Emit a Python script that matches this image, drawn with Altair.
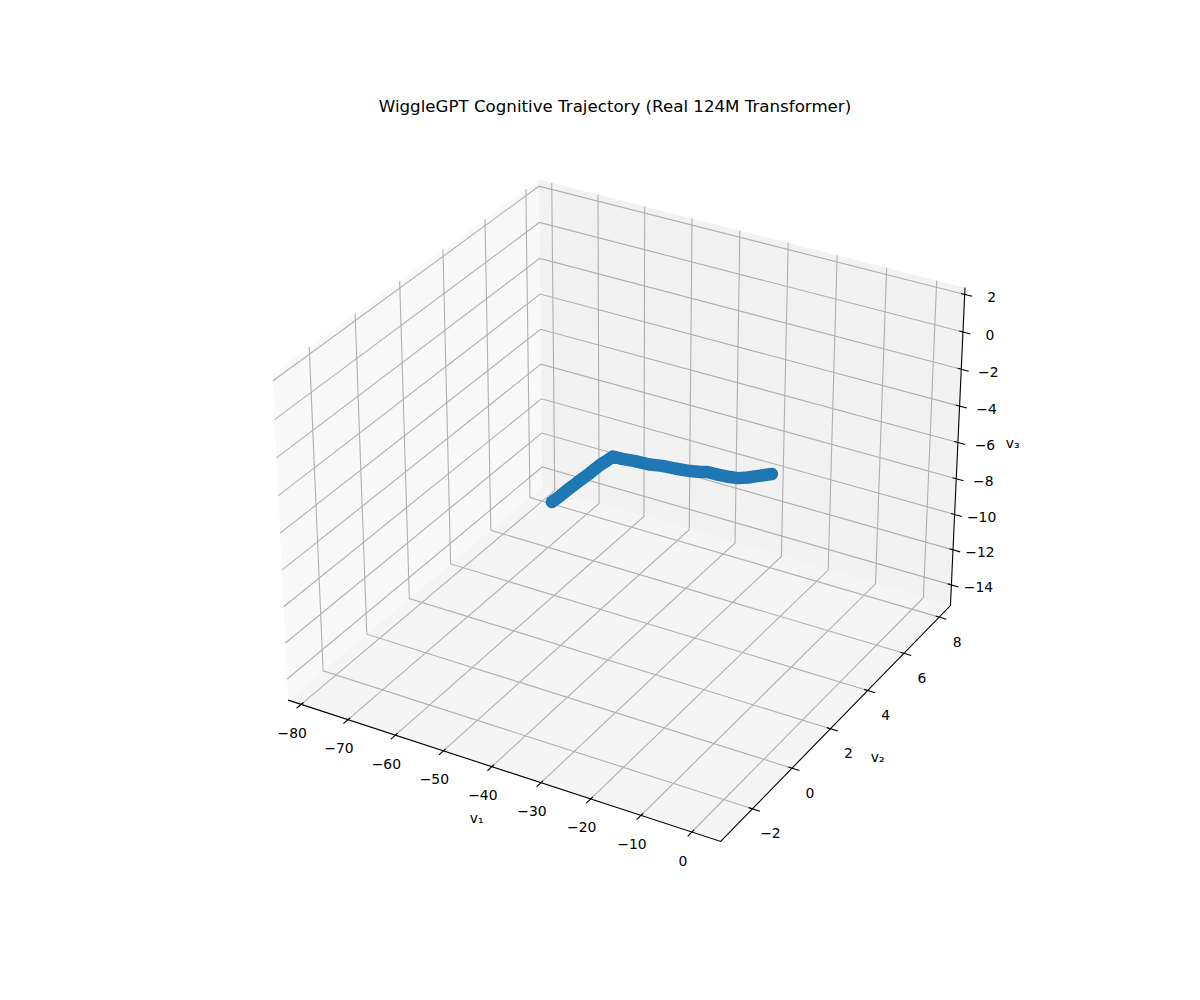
import numpy as np
import pandas as pd
import altair as alt

TITLE = "WiggleGPT Cognitive Trajectory (Real 124M Transformer)"
v1 = [-72.13, -68.63, -65.14, -61.65, -58.16, -54.17, -50.18, -46.19, -42.2, -37.7, -33.2, -29.22, -25.23, -20.74, -17.25, -14.26, -10.77, -8.27, -5.78, -4.28, -3.28, -1.79, -0.29]
v2 = [6.70, 6.30, 6.02, 5.71, 5.40, 4.97, 4.33, 3.73, 3.24, 2.80, 2.45, 2.08, 1.74, 1.36, 0.93, 0.58, 0.33, 0.19, -0.06, 0.05, 0.24, 0.25, 0.20]
v3 = [-13.39, -12.40, -11.39, -10.41, -9.43, -8.27, -7.16, -6.03, -5.40, -4.77, -4.29, -3.71, -3.23, -2.67, -2.03, -1.49, -1.15, -0.93, -0.56, -0.52, -0.55, -0.39, -0.18]
xticks = [-80, -70, -60, -50, -40, -30, -20, -10, 0]
yticks = [-2, 0, 2, 4, 6, 8]
zticks = [-14, -12, -10, -8, -6, -4, -2, 0, 2]
xl = (-82.8, 5.6)
yl = (-3.56, 8.65)
zl = (-15.19, 2.36)

# matplotlib's mplot3d camera: elev 30, azim -60, distance 10, box 4:4:3
B = np.array([4, 4, 3.0]) * 1.8294640721620434 * 25 / 24 / np.linalg.norm([4, 4, 3.0])
az, el = np.radians(-60), np.radians(30)
w = np.array([np.cos(el) * np.cos(az), np.cos(el) * np.sin(az), np.sin(el)])
u = np.cross([0, 0, 1], w)
u /= np.linalg.norm(u)
v = np.cross(w, u)
K = 770 / 0.185


def P(x, y, z):
    d = np.array([(x - xl[0]) / (xl[1] - xl[0]) * B[0],
                  (y - yl[0]) / (yl[1] - yl[0]) * B[1],
                  (z - zl[0]) / (zl[1] - zl[0]) * B[2]]) - B / 2
    q = 10 - d @ w
    return 230 + (d @ u / q + 0.095) * K, 890 - (d @ v / q + 0.095) * K


X = alt.X("px:Q", scale=alt.Scale(domain=[8, 1192], nice=False, zero=False), axis=None)
Y = alt.Y("py:Q", scale=alt.Scale(domain=[992, 8], nice=False, zero=False), axis=None)


def lines(paths):
    rows = []
    for g, path in enumerate(paths):
        for i, p in enumerate(path):
            a, b = P(*p)
            rows.append({"g": g, "i": i, "px": a, "py": b})
    return pd.DataFrame(rows)


def line_layer(paths, color, width):
    return alt.Chart(lines(paths)).mark_line(color=color, strokeWidth=width).encode(
        x=X, y=Y, detail="g:N", order=alt.Order("i:Q"))


def pane(corners, color):
    pts = [P(*c) for c in corners]
    xs = sorted(p[0] for p in pts)
    n = len(pts)
    rows = []
    for xv in xs:
        ys = []
        for k in range(n):
            a, b = pts[k], pts[(k + 1) % n]
            lo, hi = min(a[0], b[0]), max(a[0], b[0])
            if lo - 1e-9 <= xv <= hi + 1e-9 and hi > lo:
                ys.append(a[1] + (xv - a[0]) / (b[0] - a[0]) * (b[1] - a[1]))
        rows.append({"px": xv, "py": min(ys), "py2": max(ys)})
    return alt.Chart(pd.DataFrame(rows)).mark_area(color=color, opacity=1, line=False).encode(
        x=X, y=Y, y2="py2:Q")


def labels(ticks, pos, dx, dy):
    rows = []
    for t in ticks:
        a, b = P(*pos(t))
        rows.append({"px": a, "py": b, "t": str(t).replace("-", "\u2212")})
    return alt.Chart(pd.DataFrame(rows)).mark_text(
        font="DejaVu Sans", fontSize=13.9, color="black", align="center", baseline="middle", dx=dx, dy=dy
    ).encode(x=X, y=Y, text="t:N")


x0, x1 = xl
y0, y1 = yl
z0, z1 = zl
dxt = (x1 - x0) / 12
dyt = (y1 - y0) / 12

layers = [
    pane([(x0, y0, z0), (x0, y1, z0), (x0, y1, z1), (x0, y0, z1)], "#f9f9f9"),
    pane([(x0, y1, z0), (x1, y1, z0), (x1, y1, z1), (x0, y1, z1)], "#f2f2f2"),
    pane([(x0, y0, z0), (x1, y0, z0), (x1, y1, z0), (x0, y1, z0)], "#f5f5f5"),
]
grid = [[(t, y0, z0), (t, y1, z0), (t, y1, z1)] for t in xticks]
grid += [[(x1, t, z0), (x0, t, z0), (x0, t, z1)] for t in yticks]
grid += [[(x1, y1, t), (x0, y1, t), (x0, y0, t)] for t in zticks]
layers.append(line_layer(grid, "#b0b0b0", 1.11))
layers.append(line_layer([[(x0, y0, z0), (x1, y0, z0), (x1, y1, z0), (x1, y1, z1)]], "black", 1.11))
tk = [[(t, y0 + 0.1 * dyt, z0), (t, y0 - 0.2 * dyt, z0)] for t in xticks]
tk += [[(x1 - 0.1 * dxt, t, z0), (x1 + 0.2 * dxt, t, z0)] for t in yticks]
tk += [[(x1 - 0.1 * dxt, y1, t), (x1 + 0.2 * dxt, y1, t)] for t in zticks]
layers.append(line_layer(tk, "black", 1.11))
layers.append(labels(xticks, lambda t: (t, y0, z0), -9, 29.5))
layers.append(labels(yticks, lambda t: (x1, t, z0), 18, 25.5))
layers.append(labels(zticks, lambda t: (x1, y1, t), 27, 3.5))

names = [("v\u2081", ((x0 + x1) / 2, y0, z0), -22, 50),
         ("v\u2082", (x1, (y0 + y1) / 2, z0), 37, 40),
         ("v\u2083", (x1, y1, (z0 + z1) / 2), 55, -6)]
for name, p, dx, dy in names:
    a, b = P(*p)
    layers.append(alt.Chart(pd.DataFrame([{"px": a, "py": b, "t": name}])).mark_text(
        font="DejaVu Sans", fontSize=13.9, color="black", align="center", baseline="middle", dx=dx, dy=dy
    ).encode(x=X, y=Y, text="t:N"))

traj = [P(a, b, c) for a, b, c in zip(v1, v2, v3)]
df = pd.DataFrame({"px": [t[0] for t in traj], "py": [t[1] for t in traj], "i": range(len(traj))})
layers.append(alt.Chart(df).mark_line(color="#1f77b4", strokeWidth=12.5, strokeCap="round", strokeJoin="round").encode(
    x=X, y=Y, order=alt.Order("i:Q")))
layers.append(alt.Chart(df).mark_circle(color="#1f77b4", opacity=1, size=133).encode(x=X, y=Y))

chart = alt.layer(*layers).properties(
    width=1184, height=984, padding=0,
    autosize=alt.AutoSizeParams(type="none"),
    title=alt.TitleParams(TITLE, font="DejaVu Sans", fontSize=16.67, fontWeight="normal", color="black",
                          anchor="middle", frame="group", dx=15, dy=121, offset=0, baseline="alphabetic"),
).configure_view(stroke=None)
chart.save("out.html", embed_options={"renderer": "svg", "actions": False})
